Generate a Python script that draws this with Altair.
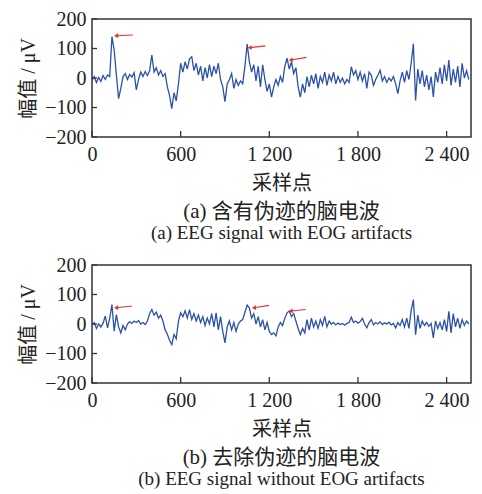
import altair as alt
import pandas as pd

STEP = 15

# (a) EEG with EOG artifacts, one value every 15 samples (uV)
eeg_raw = [
    -8, 5, -15, 2, -12, 8, -5, 10, 5, 140, 95, 10, -70, -35, 5,
    15, -5, 12, 3, 18, -40, -5, 20, 5, 22, 8, 25, 78, 20, 35,
    10, 25, 5, 15, -30, -60, -104, -50, -78, -20, 50, 20, 55, 30, 65,
    72, 25, 50, 10, 40, -10, 35, 0, 45, 5, 40, 15, 50, -5, -30,
    -80, -20, -5, 15, -35, -5, -25, -10, -20, 40, 115, 55, 20, 45, -10,
    40, -30, 45, -5, -45, -20, -65, -30, -5, -25, 5, -15, 40, 67, 30,
    55, 15, 35, -30, -65, -20, -50, 5, -30, 10, -20, 15, -35, 5, -15,
    20, -25, 10, -10, 20, -20, 5, -15, 0, -20, -5, -15, 38, 10, 25,
    -5, 20, -10, 15, -35, 20, 10, -25, -5, 10, 26, -10, 5, -15, 0,
    -10, 5, -20, -53, -10, 20, -15, 25, -5, 50, 116, -76, 30, -20, 25,
    -30, 10, -40, 5, -64, 20, -15, 35, -20, 45, -10, 61, -25, 30, -15,
    40, -30, 50, 0, 25, -5,
]

# (b) EEG after artifact removal
eeg_clean = [
    -5, 5, -15, 0, -10, 3, 27, -13, 20, 66, -24, 32, -10, -30, -5,
    -20, 0, 8, 2, 10, 5, 12, 0, 5, -2, 10, 35, 49, 30, 40,
    20, 30, 10, -20, -35, -55, -70, -35, -50, 10, 38, 25, 45, 20, 49,
    15, 35, 10, 30, 5, 25, -5, 20, 0, 35, -10, 38, -20, 25, -25,
    -64, -10, 10, -20, 5, -25, 0, 10, 15, 40, 64, 55, 20, 35, 0,
    25, -10, 15, -20, 5, -25, -36, -30, -40, -10, 5, -5, 20, 38, 44,
    25, 35, 10, -15, -36, -15, -30, 15, -20, 20, -10, 10, -15, 15, -5,
    26, -10, 10, 0, 5, -3, 3, -2, 2, -4, 2, 5, 23, 5, 10,
    3, 8, 19, 0, -13, 5, 15, -3, 5, 0, 8, -2, 4, 0, 6,
    -3, 2, -13, 5, -5, 15, -10, 20, -15, 45, 83, -36, 30, -15, 10,
    -5, 5, -8, 2, -47, 10, -15, 5, -20, 15, -25, 43, -30, 35, -10,
    20, -15, 15, -5, 10, 0,
]

x_ticks = [0, 600, 1200, 1800, 2400]
y_ticks = [-200, -100, 0, 100, 200]

# red arrows (tail -> head) in data units
raw_tail_x = [276, 1173, 1451]
raw_tail_y = [146, 109, 70]
raw_head_x = [163, 1067, 1345]
raw_head_y = [143, 103, 61]
clean_tail_x = [271, 1198, 1446]
clean_tail_y = [61, 63, 49]
clean_head_x = [163, 1096, 1345]
clean_head_y = [55, 55, 44]

W, H = 379, 118
XMAX = 2565
FONT = "Liberation Serif, Noto Sans CJK SC"
LINE = "#2b52a6"

X_AXIS = alt.Axis(values=x_ticks, ticks=False, domain=False, grid=False,
                  labelExpr="replace(format(datum.value, ','), ',', ' ')",
                  labelPadding=7, titlePadding=9, labelFlush=False, labelOverlap=False)
Y_AXIS = alt.Axis(values=y_ticks, ticks=False, domain=False, grid=False,
                  labelPadding=6, titlePadding=6, labelFlush=False, labelOverlap=False)
XS = alt.Scale(domain=[0, XMAX], nice=False, zero=False)
YS = alt.Scale(domain=[-200, 200], nice=False)


def X(field):
    return alt.X(field, type="quantitative", scale=XS, axis=X_AXIS, title="采样点")


def Y(field):
    return alt.Y(field, type="quantitative", scale=YS, axis=Y_AXIS, title="幅值 / μV")


def panel(values, tx, ty, hx, hy, title, subtitle):
    df = pd.DataFrame({"s": [i * STEP for i in range(len(values))], "v": values})
    arr = pd.DataFrame({"tx": tx, "ty": ty, "hx": hx, "hy": hy})
    line = alt.Chart(df).mark_line(color=LINE, strokeWidth=1.3, clip=True).encode(
        x=X("s"), y=Y("v"))
    xt = alt.Chart(pd.DataFrame({"t": x_ticks})).mark_rule(color="#333", strokeWidth=1.3).encode(
        x=X("t"), y=alt.value(H), y2=alt.value(H - 6))
    yt = alt.Chart(pd.DataFrame({"t": y_ticks})).mark_rule(color="#333", strokeWidth=1.3).encode(
        y=Y("t"), x=alt.value(0), x2=alt.value(5))
    shaft = alt.Chart(arr).mark_rule(color="#e8302a", strokeWidth=1.1).encode(
        x=X("tx"), x2="hx:Q", y=Y("ty"), y2="hy:Q")
    head = alt.Chart(arr).mark_point(shape="triangle-left", filled=True, color="#e8302a",
                                     size=22, opacity=1, angle=356).encode(
        x=X("hx"), y=Y("hy"))
    return alt.layer(line, xt, yt, shaft, head).properties(
        width=W, height=H,
        title=alt.TitleParams(text=title, subtitle=subtitle, orient="bottom",
                              anchor="middle", frame="group", font=FONT, subtitleFont=FONT,
                              fontSize=21, subtitleFontSize=19, fontWeight="normal",
                              color="#222", subtitleColor="#222", offset=8,
                              subtitlePadding=2),
    )


top = panel(eeg_raw, raw_tail_x, raw_tail_y, raw_head_x, raw_head_y,
            "(a) 含有伪迹的脑电波", "(a) EEG signal with EOG artifacts")
bottom = panel(eeg_clean, clean_tail_x, clean_tail_y, clean_head_x, clean_head_y,
               "(b) 去除伪迹的脑电波", "(b) EEG signal without EOG artifacts")

chart = alt.vconcat(top, bottom, spacing=10).properties(
    padding={"left": 9, "top": 0, "right": 0, "bottom": 0}
).configure(background="white").configure_view(
    stroke="#333", strokeWidth=1.5
).configure_axis(
    labelFont=FONT, titleFont=FONT, labelFontSize=20, titleFontSize=20,
    labelColor="#222", titleColor="#222", titleFontWeight="normal",
)

chart.save("out.html", embed_options={"renderer": "svg", "actions": False})
